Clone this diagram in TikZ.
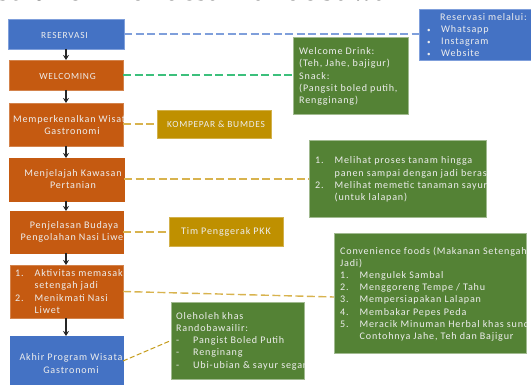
\documentclass[tikz,border=0pt]{standalone}
\usepackage{fontspec}
\setmainfont{Carlito}[LetterSpace=8]
\newfontfamily\headfont{Liberation Serif}
\usetikzlibrary{arrows.meta}
\definecolor{cblue}{HTML}{4472C4}
\definecolor{corange}{HTML}{C55A11}
\definecolor{cgreen}{HTML}{548235}
\definecolor{cgold}{HTML}{BF9000}
\definecolor{lblue}{HTML}{7F9FDB}
\definecolor{lgreen}{HTML}{3CC07C}
\definecolor{lgold}{HTML}{D8B34E}
\tikzset{
  x=1pt,y=-1pt,
  boxa/.style={inner sep=0pt,outer sep=0pt,anchor=north west,line width=0.7pt},
  bluebox/.style={boxa,fill=cblue,draw=lblue},
  orangebox/.style={boxa,fill=corange,draw=corange!75!white},
  greenbox/.style={boxa,fill=cgreen,draw=cgreen!55!white},
  goldbox/.style={boxa,fill=cgold,draw=cgold!70!white},
  txt/.style={text=white!93!black,font=\fontsize{10.1}{12.2}\selectfont,inner sep=0pt},
  ctr/.style={txt,align=center,anchor=center},
  caps/.style={ctr,font=\fontsize{9.4}{12.2}\selectfont},
  lft/.style={txt,align=left,anchor=west},
  flow/.style={draw=black!85,line width=1.5pt,-{Stealth[length=5pt,width=6pt]}},
  dashblue/.style={draw=lblue,line width=1.4pt,dash pattern=on 8pt off 3.5pt},
  dashgreen/.style={draw=lgreen,line width=1.4pt,dash pattern=on 8pt off 3.5pt},
  dashgold/.style={draw=lgold,line width=1.4pt,dash pattern=on 8pt off 3.5pt},
  dashgoldthin/.style={draw=cgold!90!white,line width=1pt,dash pattern=on 5pt off 2.5pt},
}
\newcommand{\rowitem}[2]{\makebox[19.5pt][l]{#1}#2}
\newcommand{\bul}{\makebox[14pt][l]{{\fontsize{7}{7}\selectfont •}}}
\newcommand{\clipbox}[1]{\clip (#1.north west) rectangle (#1.south east);}
\begin{document}
\begin{tikzpicture}
\useasboundingbox (0,0) rectangle (531,385);
\node[anchor=base west,inner sep=0pt,text=black,font=\headfont\fontsize{31}{31}\selectfont\bfseries] (head) at (-3,1) {strukohir di desa Randobawailir};

% main flow boxes
\node[bluebox,minimum width=116pt,minimum height=30pt] (b1) at (8,19) {};
\node[orangebox,minimum width=114pt,minimum height=30pt] (b2) at (9,60) {};
\node[orangebox,minimum width=114pt,minimum height=43pt] (b3) at (9,103) {};
\node[orangebox,draw=corange,minimum width=115pt,minimum height=43pt] (b4) at (9,158) {};
\node[orangebox,draw=corange,minimum width=113pt,minimum height=42pt] (b5) at (10,211) {};
\node[orangebox,minimum width=113pt,minimum height=53pt] (b6) at (10,265) {};
\node[bluebox,draw=cblue,minimum width=113pt,minimum height=50pt] (b7) at (10,336) {};

% side boxes
\node[goldbox,minimum width=114pt,minimum height=28pt] (k1) at (157,110) {};
\node[goldbox,minimum width=114pt,minimum height=29pt] (k2) at (169,217) {};
\node[bluebox,minimum width=112pt,minimum height=51pt] (g0) at (419,9) {};
\node[greenbox,minimum width=115pt,minimum height=77pt] (g1) at (293,37) {};
\node[greenbox,minimum width=177pt,minimum height=77pt] (g2) at (309,140) {};
\node[greenbox,minimum width=192pt,minimum height=120pt] (g3) at (334,233) {};
\node[greenbox,minimum width=133pt,minimum height=77pt] (g4) at (171,302) {};

% flow arrows
\draw[flow] (b1.south -| 66,0) -- (b2.north -| 66,0);
\draw[flow] (b2.south -| 66,0) -- (b3.north -| 66,0);
\draw[flow] (b3.south -| 66,0) -- (b4.north -| 66,0);
\draw[flow] (b4.south -| 66,0) -- (b5.north -| 66,0);
\draw[flow] (b5.south -| 66,0) -- (b6.north -| 66,0);
\draw[flow] (b6.south -| 66,0) -- (b7.north -| 66,0);

% dashed links
\draw[dashblue] (b1.east) -- (g0.west |- b1.east);
\draw[dashgreen] (b2.east) -- (g1.west |- b2.east);
\draw[dashgold] (b3.east |- k1.west) -- (k1.west);
\draw[dashgold] (b4.east |- 0,179) -- (g2.west |- 0,179);
\draw[dashgold] (b5.east) -- (k2.west |- b5.east);
\draw[dashgold] (b6.east) -- (g3.west |- 0,297);
\draw[dashgoldthin] (b7.east) -- (g4.west);

% texts
\node[caps] (t1) at (64.5,35) {RESERVASI};
\node[caps] (t2) at (67.5,76) {WELCOMING};
\begin{scope}\clipbox{b3}\node[ctr] (t3) at (72,125) {Memperkenalkan Wisata\\Gastronomi};\end{scope}
\begin{scope}\clipbox{b4}\node[ctr] (t4) at (73,179) {Menjelajah Kawasan\\Pertanian};\end{scope}
\begin{scope}\clipbox{b5}\node[ctr] (t5) at (74,232) {Penjelasan Budaya\\Pengolahan Nasi Liwet};\end{scope}
\begin{scope}\clipbox{b6}\node[lft] (t6) at (15,291.5) {\rowitem{1.}{Aktivitas memasak}\\\rowitem{}{setengah jadi}\\\rowitem{2.}{Menikmati Nasi}\\\rowitem{}{Liwet}};\end{scope}
\begin{scope}\clipbox{b7}\node[ctr] (t7) at (71,363.5) {Akhir Program Wisata\\Gastronomi};\end{scope}
\node[caps] (t8) at (216,124) {KOMPEPAR \& BUMDES};
\node[ctr] (t9) at (226,232) {Tim Penggerak PKK};
\begin{scope}\clipbox{g0}\node[lft] (t10) at (427,35) {\makebox[13pt][l]{}Reservasi melalui:\\\bul Whatsapp\\\bul Instagram\\\bul Website};\end{scope}
\node[lft] (t11) at (299,76.5) {Welcome Drink:\\(Teh, Jahe, bajigur)\\Snack:\\(Pangsit boled putih,\\Rengginang)};
\begin{scope}\clipbox{g2}\node[lft] (t12) at (315,179.5) {\rowitem{1.}{Melihat proses tanam hingga}\\\rowitem{}{panen sampai dengan jadi beras}\\\rowitem{2.}{Melihat memetic tanaman sayur}\\\rowitem{}{(untuk lalapan)}};\end{scope}
\begin{scope}\clipbox{g3}\node[lft] (t13) at (340,294) {Convenience foods (Makanan Setengah\\Jadi)\\\rowitem{1.}{Mengulek Sambal}\\\rowitem{2.}{Menggoreng Tempe / Tahu}\\\rowitem{3.}{Mempersiapakan Lalapan}\\\rowitem{4.}{Membakar Pepes Peda}\\\rowitem{5.}{Meracik Minuman Herbal khas sunda}\\\rowitem{}{Contohnya Jahe, Teh dan Bajigur}};\end{scope}
\begin{scope}\clipbox{g4}\node[lft] (t14) at (176,341) {Oleholeh khas\\Randobawailir:\\\makebox[17pt][l]{-}Pangist Boled Putih\\\makebox[17pt][l]{-}Renginang\\\makebox[17pt][l]{-}Ubi-ubian \& sayur segar};\end{scope}
\end{tikzpicture}
\end{document}
